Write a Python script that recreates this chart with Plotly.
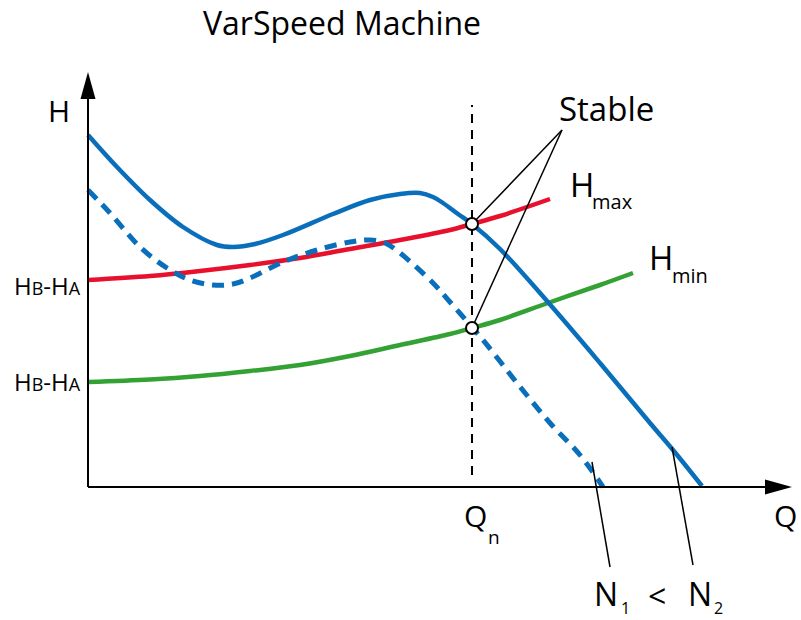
import numpy as np
import plotly.graph_objects as go

# ---- data (Q = flow, H = head; arbitrary schematic units) ----
TITLE = "VarSpeed Machine"

# Pump curve at speed N2 (solid)
Q_N2 = [0, 29, 62, 95, 129, 145, 167, 195, 245, 282, 312, 332, 345, 355, 370, 384, 412, 459, 512, 562, 585, 614]
H_N2 = [352, 320, 287, 260, 242, 240, 243, 252, 273, 287, 293, 294, 290, 284, 273, 263, 238, 186, 124, 64, 37, 1]

# Pump curve at speed N1 (dashed)
Q_N1 = [0, 22, 52, 79, 102, 125, 145, 162, 195, 229, 262, 282, 297, 312, 345, 362, 395, 429, 462, 492, 515]
H_N1 = [297, 274, 240, 219, 207, 202, 203, 209, 225, 237, 245, 247, 244, 234, 204, 185, 147, 104, 64, 32, 0]

# System curves
Q_HMAX = [0, 62, 112, 162, 212, 262, 312, 362, 384, 412, 462]
H_HMAX = [207, 211, 216, 222, 229, 238, 247, 257, 263, 271, 288]
Q_HMIN = [0, 62, 112, 162, 212, 262, 312, 362, 384, 412, 460, 512, 545]
H_HMIN = [105, 107.5, 111, 116, 122, 131, 142, 153, 159, 167, 184, 202, 214]

QN = 384                     # nominal flow
Q_AXIS_END = 704
H_AXIS_END = 415

BLUE = "#0a6fba"
RED = "#e8112d"
GREEN = "#34a134"
FONT = "Open Sans"

fig = go.Figure()

fig.add_trace(go.Scatter(x=Q_HMAX, y=H_HMAX, mode="lines", line=dict(color=RED, width=4.5, shape="spline"), hoverinfo="skip"))
fig.add_trace(go.Scatter(x=Q_HMIN, y=H_HMIN, mode="lines", line=dict(color=GREEN, width=4.5, shape="spline"), hoverinfo="skip"))
fig.add_trace(go.Scatter(x=Q_N1, y=H_N1, mode="lines", line=dict(color=BLUE, width=5, shape="spline", dash="12px,8px"), hoverinfo="skip"))
fig.add_trace(go.Scatter(x=Q_N2, y=H_N2, mode="lines", line=dict(color=BLUE, width=4.5, shape="spline"), hoverinfo="skip"))

# operating points
h_op_max = float(np.interp(QN, Q_HMAX, H_HMAX))
h_op_min = float(np.interp(QN, Q_HMIN, H_HMIN))

# "Stable" leader lines
apex = (474, 357)
for h in (h_op_max, h_op_min):
    fig.add_trace(go.Scatter(x=[apex[0], QN], y=[apex[1], h], mode="lines",
                             line=dict(color="black", width=1.5), hoverinfo="skip"))

# N1 / N2 leaders
fig.add_trace(go.Scatter(x=[504, 522], y=[25, -80], mode="lines", line=dict(color="black", width=1.5), hoverinfo="skip"))
fig.add_trace(go.Scatter(x=[584, 605], y=[40, -78], mode="lines", line=dict(color="black", width=1.5), hoverinfo="skip"))

fig.add_trace(go.Scatter(x=[QN, QN], y=[h_op_max, h_op_min], mode="markers",
                         marker=dict(size=12, color="white", line=dict(color="black", width=2)), hoverinfo="skip"))

AL, AH = 27, 7.5
shapes = [
    dict(type="line", x0=0, y0=0, x1=Q_AXIS_END - AL + 2, y1=0, line=dict(color="black", width=2)),
    dict(type="line", x0=0, y0=0, x1=0, y1=H_AXIS_END - AL + 2, line=dict(color="black", width=2)),
    dict(type="path", path=f"M {Q_AXIS_END},0 L {Q_AXIS_END-AL},{AH} L {Q_AXIS_END-AL},{-AH} Z",
         fillcolor="black", line=dict(width=0)),
    dict(type="path", path=f"M 0,{H_AXIS_END} L {AH},{H_AXIS_END-AL} L {-AH},{H_AXIS_END-AL} Z",
         fillcolor="black", line=dict(width=0)),
    dict(type="line", x0=QN, y0=12, x1=QN, y1=382, line=dict(color="black", width=2, dash="9px,7px"), layer="below"),
]

def ann(text, x, y, size, xanchor="center"):
    return dict(text=text, x=x, y=y, xref="x", yref="y", showarrow=False,
                xanchor=xanchor, yanchor="middle", font=dict(family=FONT, size=size, color="black"))

hba = "H<span style='font-size:18px'>B</span>-H<span style='font-size:18px'>A</span>"
annotations = [
    ann(TITLE, 254, 465, 32),
    ann("H", -29, 377, 30),
    ann(hba, -5, H_HMAX[0] - 5, 24, xanchor="right"),
    ann(hba, -5, H_HMIN[0] + 1, 24, xanchor="right"),
    ann("Stable", 518, 379, 33),
    ann("H", 494, 303, 33), ann("max", 524, 286, 20),
    ann("H", 573, 230, 33), ann("min", 602, 212, 20),
    ann("Q", 697, -28, 30),
    ann("Q", 387, -28, 30), ann("n", 406, -50, 19),
    ann("N", 518, -106, 32), ann("1", 537, -121, 16),
    ann("&lt;", 569, -108, 32),
    ann("N", 612, -106, 32), ann("2", 630, -121, 16),
]

fig.update_layout(
    width=801, height=620,
    margin=dict(l=0, r=0, t=0, b=0),
    paper_bgcolor="white", plot_bgcolor="white",
    showlegend=False,
    xaxis=dict(visible=False, range=[-88, 713], fixedrange=True),
    yaxis=dict(visible=False, range=[-133, 487], fixedrange=True),
    shapes=shapes, annotations=annotations,
)

fig.write_html("out.html", config={"displayModeBar": False},
               post_script="document.body.style.margin='0';document.body.style.overflow='hidden';")
